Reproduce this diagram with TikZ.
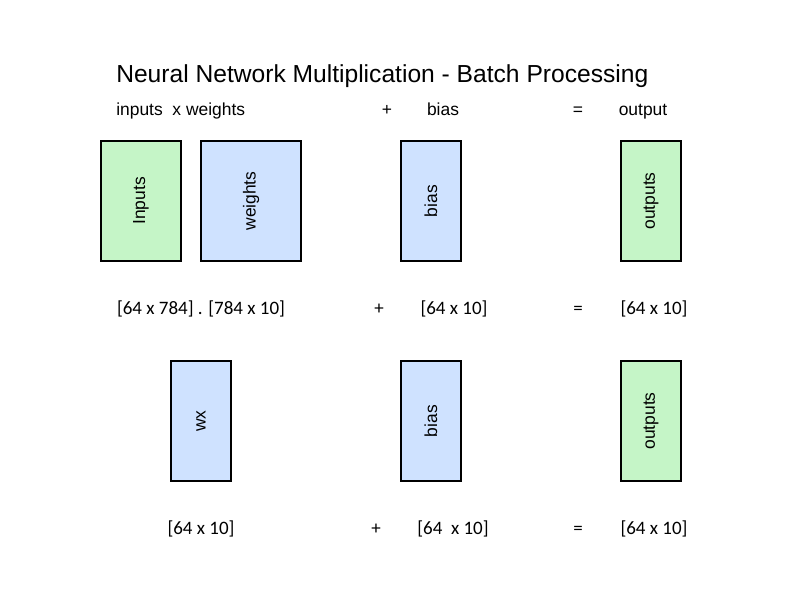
\documentclass[tikz,border=0pt]{standalone}
\usepackage{fontspec}
\setmainfont{Liberation Sans}
\newfontfamily\calfont{Carlito}
\definecolor{greenfill}{RGB}{197,245,199}
\definecolor{bluefill}{RGB}{207,226,255}
\tikzstyle{every picture} = [x=0.025cm, y=-0.025cm]
\tikzstyle{databox} = [draw=black, line width=1.1pt, rotate=90, inner sep=0pt, minimum width=3cm, font=\fontsize{12.4}{15}\selectfont]
\tikzstyle{toplabel} = [inner sep=0pt, anchor=base, font=\fontsize{12.4}{15}\selectfont]
\tikzstyle{dimlabel} = [inner sep=0pt, anchor=base, font=\calfont\fontsize{13.5}{16}\selectfont]

\begin{document}
\begin{tikzpicture}
            \useasboundingbox (0,0) rectangle (801,601);
            \node (title) at(116,82) [anchor=base west, inner sep=0pt, font=\fontsize{17.5}{20}\selectfont] {Neural Network Multiplication - Batch Processing};

            \node (lbl inputs) at(116,115) [toplabel, anchor=base west] {inputs\ \ x weights};
            \node (lbl plus) at(387,115) [toplabel] {+};
            \node (lbl bias) at(443,115) [toplabel] {bias};
            \node (lbl equals) at(578,115) [toplabel] {=};
            \node (lbl output) at(643,115) [toplabel] {output};

            \node (inputs) at(141,201) [databox, fill=greenfill, minimum height=2cm] {Inputs};
            \node (weights) at(251,201) [databox, fill=bluefill, minimum height=2.5cm] {weights};
            \node (bias 1) at(431,201) [databox, fill=bluefill, minimum height=1.5cm] {bias};
            \node (outputs 1) at(651,201) [databox, fill=greenfill, minimum height=1.5cm] {outputs};

            \node (dim product) at(201,314) [dimlabel] {[64 x 784] . [784 x 10]};
            \node (plus 1) at(379,314) [dimlabel] {+};
            \node (dim bias 1) at(454,314) [dimlabel] {[64 x 10]};
            \node (equals 1) at(578,314) [dimlabel] {=};
            \node (dim out 1) at(654,314) [dimlabel] {[64 x 10]};

            \node (wx) at(201,421) [databox, fill=bluefill, minimum height=1.5cm] {wx};
            \node (bias 2) at(431,421) [databox, fill=bluefill, minimum height=1.5cm] {bias};
            \node (outputs 2) at(651,421) [databox, fill=greenfill, minimum height=1.5cm] {outputs};

            \node (dim wx) at(201,534) [dimlabel] {[64 x 10]};
            \node (plus 2) at(376,534) [dimlabel] {+};
            \node (dim bias 2) at(453,534) [dimlabel] {[64\ \ x 10]};
            \node (equals 2) at(578,534) [dimlabel] {=};
            \node (dim out 2) at(654,534) [dimlabel] {[64 x 10]};
\end{tikzpicture}
\end{document}
